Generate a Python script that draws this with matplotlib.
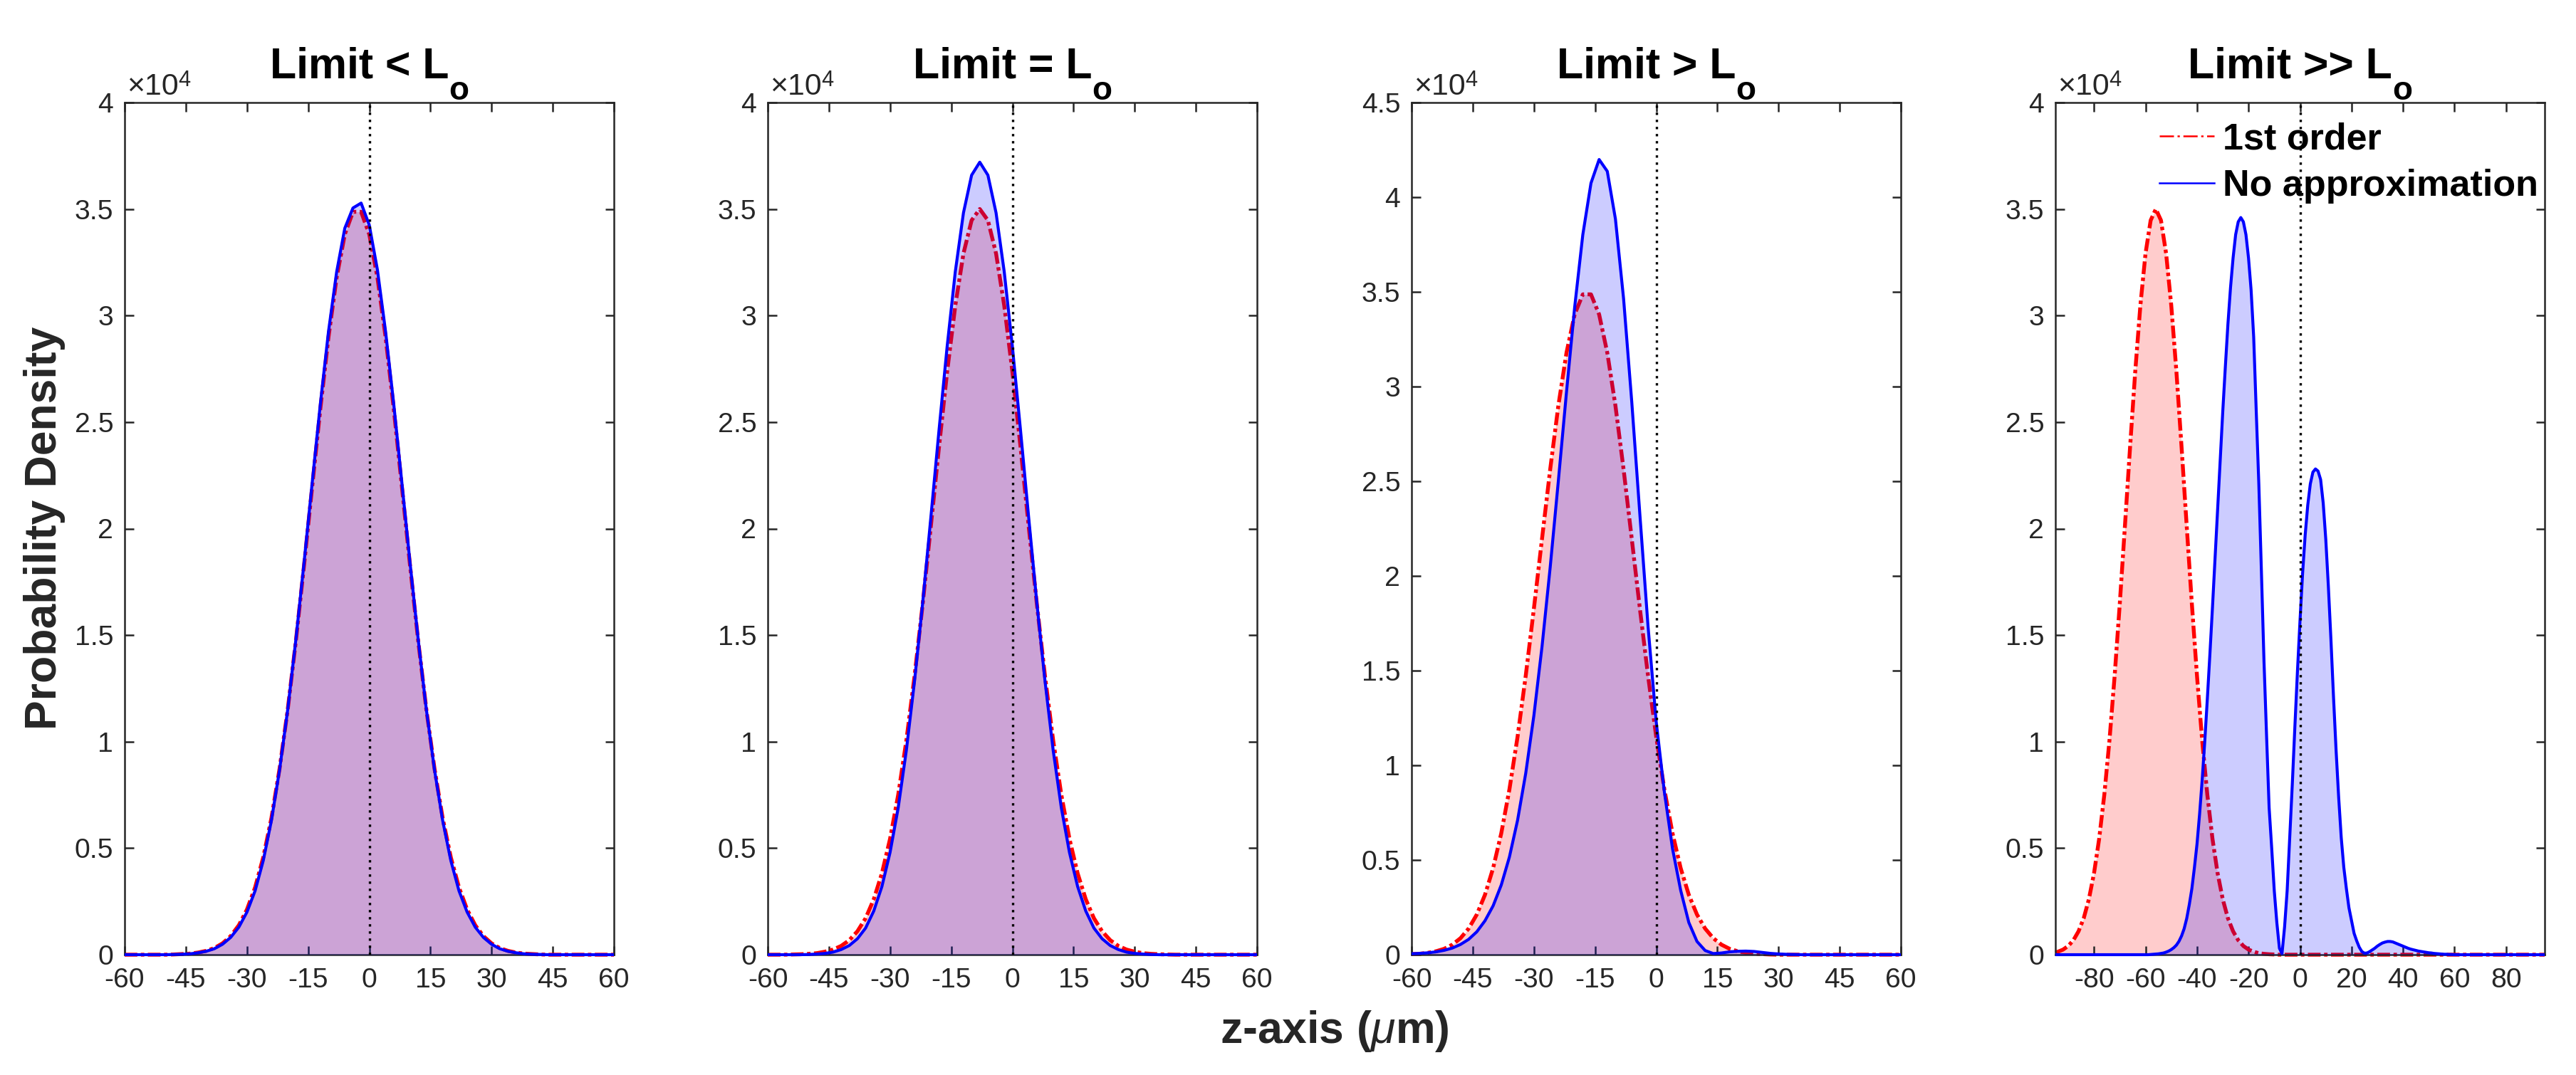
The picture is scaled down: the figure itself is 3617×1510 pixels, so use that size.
import matplotlib
matplotlib.use('Agg')
import matplotlib.pyplot as plt
from matplotlib.lines import Line2D

plt.rcParams['font.family'] = ['Liberation Sans', 'DejaVu Sans']
plt.rcParams['mathtext.fontset'] = 'custom'
plt.rcParams['mathtext.rm'] = 'Liberation Sans'
plt.rcParams['mathtext.it'] = 'Liberation Sans:italic'
plt.rcParams['mathtext.bf'] = 'Liberation Sans:bold'
plt.rcParams['axes.unicode_minus'] = False

# ---------------- data (density in units of 1e4) ----------------
panel_titles = ['Limit < L', 'Limit = L', 'Limit > L', 'Limit >> L']
title_sub = 'o'
series_names = ['1st order', 'No approximation']

x_grid = [-60, -58, -56, -54, -52, -50, -48, -46, -44, -42, -40, -38, -36, -34, -32,
          -30, -28, -26, -24, -22, -20, -18, -16, -14, -12, -10, -8, -6, -4, -2, 0,
          2, 4, 6, 8, 10, 12, 14, 16, 18, 20, 22, 24, 26, 28, 30, 32, 34, 36, 38,
          40, 42, 44, 46, 48, 50, 52, 54, 56, 58, 60]

first_order_1 = [0, 0, 0, 0, 0, 0.000, 0.001, 0.003, 0.005, 0.010,
                 0.018, 0.031, 0.053, 0.087, 0.138, 0.212, 0.316, 0.457, 0.641, 0.873,
                 1.151, 1.473, 1.827, 2.197, 2.563, 2.899, 3.179, 3.381, 3.487, 3.487,
                 3.381, 3.179, 2.899, 2.563, 2.197, 1.827, 1.473, 1.151, 0.873, 0.641,
                 0.457, 0.316, 0.212, 0.138, 0.087, 0.053, 0.031, 0.018, 0.010, 0.005,
                 0.003, 0.001, 0, 0, 0, 0, 0, 0, 0, 0, 0]
exact_1 = [0, 0, 0, 0, 0, 0.000, 0.001, 0.002, 0.004, 0.009,
           0.016, 0.028, 0.049, 0.081, 0.129, 0.200, 0.300, 0.442, 0.630, 0.868,
           1.151, 1.480, 1.840, 2.215, 2.585, 2.925, 3.205, 3.410, 3.505, 3.528,
           3.425, 3.215, 2.925, 2.585, 2.215, 1.840, 1.480, 1.151, 0.868, 0.630,
           0.442, 0.300, 0.200, 0.129, 0.081, 0.049, 0.028, 0.016, 0.009, 0.004,
           0.002, 0.001, 0, 0, 0, 0, 0, 0, 0, 0, 0]

first_order_2 = [0, 0, 0.000, 0.001, 0.002, 0.004, 0.007, 0.014, 0.024, 0.041,
                 0.068, 0.110, 0.171, 0.260, 0.382, 0.544, 0.751, 1.006, 1.307, 1.646,
                 2.011, 2.382, 2.736, 3.047, 3.291, 3.447, 3.500, 3.447, 3.291, 3.047,
                 2.736, 2.382, 2.011, 1.646, 1.307, 1.006, 0.751, 0.544, 0.382, 0.260,
                 0.171, 0.110, 0.068, 0.041, 0.024, 0.014, 0.007, 0.004, 0.002, 0.001,
                 0, 0, 0, 0, 0, 0, 0, 0, 0, 0, 0]
exact_2 = [0, 0, 0, 0, 0.000, 0.001, 0.003, 0.006, 0.012, 0.024,
           0.043, 0.075, 0.125, 0.205, 0.320, 0.480, 0.690, 0.960, 1.285, 1.652,
           2.052, 2.461, 2.855, 3.206, 3.482, 3.659, 3.720, 3.659, 3.482, 3.206,
           2.855, 2.461, 2.052, 1.652, 1.285, 0.960, 0.690, 0.480, 0.320, 0.205,
           0.125, 0.075, 0.043, 0.024, 0.012, 0.006, 0.003, 0.001, 0, 0,
           0, 0, 0, 0, 0, 0, 0, 0, 0, 0, 0]

first_order_3 = [0.003, 0.005, 0.010, 0.018, 0.031, 0.053, 0.087, 0.138, 0.212, 0.316,
                 0.457, 0.641, 0.873, 1.151, 1.473, 1.827, 2.197, 2.563, 2.899, 3.179,
                 3.381, 3.487, 3.487, 3.381, 3.179, 2.899, 2.563, 2.197, 1.827, 1.473,
                 1.151, 0.873, 0.641, 0.457, 0.316, 0.212, 0.138, 0.087, 0.053, 0.031,
                 0.018, 0.010, 0.005, 0.003, 0.001, 0, 0, 0, 0, 0,
                 0, 0, 0, 0, 0, 0, 0, 0, 0, 0, 0]
exact_3 = [0.005, 0.007, 0.010, 0.015, 0.023, 0.035, 0.054, 0.081, 0.121, 0.179,
           0.258, 0.368, 0.516, 0.710, 0.958, 1.263, 1.628, 2.046, 2.502, 2.972,
           3.419, 3.802, 4.074, 4.199, 4.137, 3.885, 3.464, 2.921, 2.323, 1.733,
           1.230, 0.860, 0.560, 0.340, 0.170, 0.070, 0.022, 0.006, 0.009, 0.015,
           0.018, 0.019, 0.017, 0.012, 0.007, 0.004, 0.002, 0.001, 0, 0,
           0, 0, 0, 0, 0, 0, 0, 0, 0, 0, 0]

x_first_order_4 = [-95, -94, -92, -90, -88, -86, -84, -82, -80, -78, -76, -74, -72, -70,
                   -68, -66, -64, -62, -60, -58, -56, -54, -52, -50, -48, -46, -44, -42,
                   -40, -38, -36, -34, -32, -30, -28, -26, -24, -22, -20, -18, -16, -14,
                   -12, -10, -8, -6, -4, -2, 0, 95]
first_order_4 = [0.010, 0.014, 0.024, 0.041, 0.068, 0.110, 0.171, 0.260, 0.382, 0.544,
                 0.751, 1.006, 1.307, 1.646, 2.011, 2.382, 2.736, 3.047, 3.291, 3.447,
                 3.500, 3.447, 3.291, 3.047, 2.736, 2.382, 2.011, 1.646, 1.307, 1.006,
                 0.751, 0.544, 0.382, 0.260, 0.171, 0.110, 0.068, 0.041, 0.024, 0.014,
                 0.007, 0.004, 0.002, 0.001, 0, 0, 0, 0, 0, 0]

x_exact_4 = [-95,
             -60, -59, -58, -57, -56, -55, -54, -53, -52, -51,
             -50, -49, -48, -47, -46, -45, -44, -43, -42, -41,
             -40, -39, -38, -37, -36, -35, -34, -33, -32, -31,
             -30, -29, -28, -27, -26, -25, -24, -23, -22, -21,
             -20, -19, -18, -17, -16, -15, -14, -13, -12, -11,
             -10, -9, -8, -7, -6, -5, -4, -3, -2, -1,
             0, 1, 2, 3, 4, 5, 6, 7, 8, 9,
             10, 11, 12, 13, 14, 15, 16, 17, 18, 19,
             20, 21, 22, 23, 24, 25, 26, 27, 28, 29,
             30, 31, 32, 33, 34, 35, 36, 37, 38, 39,
             40, 41, 42, 43, 44, 45, 46, 47, 48, 49,
             50, 51, 52, 53, 54, 55, 56, 57, 58, 59,
             60, 95]
exact_4 = [0,
           0.000, 0.000, 0.001, 0.002, 0.003, 0.004, 0.006, 0.008, 0.012, 0.017,
           0.024, 0.033, 0.045, 0.063, 0.088, 0.122, 0.170, 0.235, 0.310, 0.410,
           0.520, 0.660, 0.820, 1.000, 1.200, 1.410, 1.630, 1.860, 2.090, 2.320,
           2.550, 2.760, 2.960, 3.130, 3.270, 3.380, 3.440, 3.460, 3.440, 3.380,
           3.270, 3.120, 2.900, 2.550, 2.210, 1.800, 1.380, 1.030, 0.690, 0.500,
           0.300, 0.150, 0.030, 0.005, 0.130, 0.300, 0.550, 0.800, 1.070, 1.330,
           1.570, 1.790, 1.970, 2.110, 2.210, 2.265, 2.280, 2.270, 2.230, 2.120,
           1.950, 1.730, 1.480, 1.210, 0.960, 0.740, 0.550, 0.410, 0.310, 0.220,
           0.160, 0.100, 0.065, 0.035, 0.015, 0.007, 0.008, 0.014, 0.022, 0.030,
           0.040, 0.048, 0.055, 0.059, 0.062, 0.062, 0.060, 0.055, 0.050, 0.045,
           0.040, 0.035, 0.030, 0.026, 0.023, 0.020, 0.017, 0.015, 0.013, 0.011,
           0.009, 0.008, 0.006, 0.005, 0.004, 0.003, 0.002, 0.002, 0.001, 0.001,
           0.000, 0]

x_ticks_a = [-60, -45, -30, -15, 0, 15, 30, 45, 60]
x_ticks_b = [-80, -60, -40, -20, 0, 20, 40, 60, 80]
y_ticks_a = [0, 0.5, 1, 1.5, 2, 2.5, 3, 3.5, 4]
y_ticks_b = [0, 0.5, 1, 1.5, 2, 2.5, 3, 3.5, 4, 4.5]
y_multiplier = ('\u00d710', '4')

panels = [
    dict(xr=x_grid, yr=first_order_1, xb=x_grid, yb=exact_1, xlim=(-60, 60), ylim=(0, 4),
         xt=x_ticks_a, yt=y_ticks_a),
    dict(xr=x_grid, yr=first_order_2, xb=x_grid, yb=exact_2, xlim=(-60, 60), ylim=(0, 4),
         xt=x_ticks_a, yt=y_ticks_a),
    dict(xr=x_grid, yr=first_order_3, xb=x_grid, yb=exact_3, xlim=(-60, 60), ylim=(0, 4.5),
         xt=x_ticks_a, yt=y_ticks_b),
    dict(xr=x_first_order_4, yr=first_order_4, xb=x_exact_4, yb=exact_4, xlim=(-95, 95),
         ylim=(0, 4), xt=x_ticks_b, yt=y_ticks_a),
]

# ---------------- layout ----------------
W, H, DPI = 3617, 1510, 300
fig = plt.figure(figsize=(W / DPI, H / DPI), dpi=DPI)
fig.patch.set_facecolor('white')

ax_lefts = [175, 1078, 1982, 2886]
ax_w, ax_top, ax_bot = 687, 144, 1341
ax_h = ax_bot - ax_top
GRAY = '0.15'
red_dash = (3.3, 0.9, 0.9, 0.9)

renderer = fig.canvas.get_renderer()


def fmt(v):
    return ('%g' % v)


def put_pair(x_left, base1, base2, s1, s2, fs1, fs2, color, weight):
    """Text followed by a raised/lowered second part, in pixel coordinates."""
    t1 = fig.text(x_left / W, (H - base1) / H, s1, fontsize=fs1, weight=weight,
                  ha='left', va='baseline', color=color)
    w1 = t1.get_window_extent(renderer).width
    t2 = fig.text((x_left + w1) / W, (H - base2) / H, s2, fontsize=fs2, weight=weight,
                  ha='left', va='baseline', color=color)
    return t1, t2


axes = []
for i, p in enumerate(panels):
    ax = fig.add_axes([ax_lefts[i] / W, (H - ax_bot) / H, ax_w / W, ax_h / H])
    axes.append(ax)
    ax.fill_between(p['xr'], p['yr'], 0, color='red', alpha=0.2, lw=0, zorder=1)
    ax.plot(p['xr'], p['yr'], color='red', lw=1.3, dashes=red_dash, zorder=2,
            clip_on=False)
    ax.fill_between(p['xb'], p['yb'], 0, color='blue', alpha=0.2, lw=0, zorder=3)
    ax.plot(p['xb'], p['yb'], color='blue', lw=1.0, zorder=4, clip_on=False,
            solid_capstyle='butt')
    ax.axvline(0, color='black', lw=0.8, dashes=(1, 2), zorder=5)
    ax.set_xlim(*p['xlim'])
    ax.set_ylim(*p['ylim'])
    ax.set_xticks(p['xt'])
    ax.set_xticklabels([fmt(v) for v in p['xt']])
    ax.set_yticks(p['yt'])
    ax.set_yticklabels([fmt(v) for v in p['yt']])
    ax.tick_params(direction='in', length=3.0, width=0.6, top=True, right=True,
                   labelsize=9.4, color=GRAY, labelcolor=GRAY)
    ax.tick_params(axis='x', pad=4.4)
    ax.tick_params(axis='y', pad=3.8)
    for s in ax.spines.values():
        s.set_linewidth(0.6)
        s.set_color(GRAY)

    # x10^4 multiplier above the y axis
    put_pair(ax_lefts[i] + 3, 133, 121, y_multiplier[0], y_multiplier[1],
             10.3, 7.4, GRAY, 'normal')

    # title with large, low subscript
    xc = ax_lefts[i] + ax_w / 2
    t1 = fig.text(0, 0, panel_titles[i], fontsize=14.6, weight='bold',
                  ha='left', va='baseline', color='black')
    t2 = fig.text(0, 0, title_sub, fontsize=11, weight='bold',
                  ha='left', va='baseline', color='black')
    w1 = t1.get_window_extent(renderer).width
    w2 = t2.get_window_extent(renderer).width
    x0 = xc - (w1 + w2) / 2
    t1.set_position((x0 / W, (H - 109) / H))
    t2.set_position(((x0 + w1) / W, (H - 140) / H))

# legend in last panel
h1 = Line2D([], [], color='red', lw=0.6, dashes=(8, 2, 1.3, 2))
h2 = Line2D([], [], color='blue', lw=0.6)
axes[3].legend([h1, h2], series_names, loc='upper left', bbox_to_anchor=(0.212, 0.977),
               frameon=False, prop={'weight': 'bold', 'size': 12.5}, handlelength=1.48,
               handletextpad=0.24, labelspacing=0.32, borderpad=0, borderaxespad=0)

fig.text(63 / W, (H - 742) / H, 'Probability Density', rotation=90, ha='center',
         va='center', fontsize=15, weight='bold', color=GRAY)
fig.text(1874 / W, (H - 1465) / H, r'z-axis ($\mu$m)', ha='center', va='baseline',
         fontsize=15, weight='bold', color=GRAY)

fig.savefig('out.png', dpi=DPI, facecolor='white')
